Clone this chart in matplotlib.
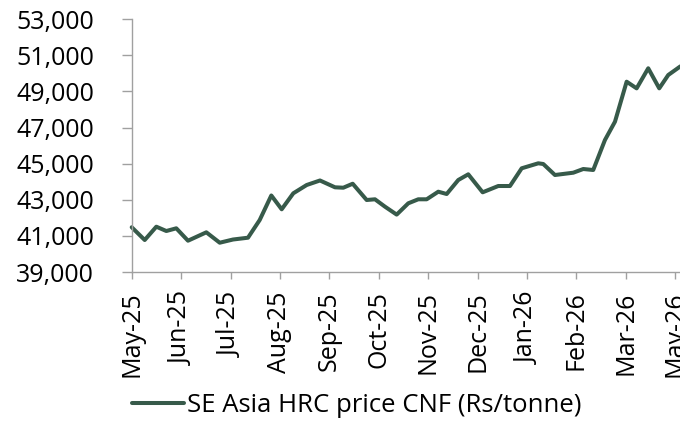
import numpy as np
import matplotlib
matplotlib.use("Agg")
import matplotlib.pyplot as plt
from matplotlib.ticker import FuncFormatter

plt.rcParams['font.family'] = ['Open Sans', 'DejaVu Sans']

# tick labels as printed on the source chart (Apr-26 is not shown there)
tick_labels = ["May-25", "Jun-25", "Jul-25", "Aug-25", "Sep-25", "Oct-25",
               "Nov-25", "Dec-25", "Jan-26", "Feb-26", "Mar-26", "May-26"]

# position of each reading, in months after the May-25 tick
month_pos = [0.0, 0.263, 0.498, 0.700, 0.902, 1.139, 1.510, 1.781, 2.050,
             2.353, 2.590, 2.825, 3.035, 3.270, 3.541, 3.810, 4.114, 4.282,
             4.472, 4.755, 4.923, 5.126, 5.362, 5.597, 5.799, 5.969, 6.204,
             6.374, 6.609, 6.811, 7.102, 7.418, 7.655, 7.892, 8.228, 8.329,
             8.565, 8.936, 9.138, 9.340, 9.577, 9.780, 10.016, 10.218,
             10.453, 10.676, 10.858, 11.094, 11.25]

# SE Asia HRC price CNF, Rs/tonne
price = [41480, 40773, 41510, 41271, 41421, 40734, 41199, 40623, 40800,
         40900, 41880, 43240, 42474, 43360, 43820, 44070, 43692, 43670,
         43890, 42989, 43028, 42618, 42180, 42806, 43028, 43028, 43449,
         43321, 44097, 44412, 43415, 43764, 43764, 44745, 45022, 44983,
         44374, 44501, 44706, 44651, 46313, 47327, 49543, 49174, 50285,
         49174, 49913, 50374, 50600]

series_name = "SE Asia HRC price CNF (Rs/tonne)"

fig = plt.figure(figsize=(6.8, 4.21), dpi=100)
# axes runs past the right edge of the figure, like the cropped original
ax = fig.add_axes([0.1937, 0.3539, 0.872, 0.6003])

ax.plot(month_pos, price, color='#375a4a', lw=2.9, solid_joinstyle='round',
        solid_capstyle='round', label=series_name, clip_on=False)

ax.set_xlim(0, 12)
ax.set_ylim(39000, 53000)
ax.set_yticks(np.arange(39000, 53001, 2000))
ax.yaxis.set_major_formatter(FuncFormatter(lambda v, p: f"{int(v):,}"))
ax.set_xticks(range(len(tick_labels)))
ax.set_xticklabels(tick_labels, rotation=90)

for s in ['top', 'right']:
    ax.spines[s].set_visible(False)
for s in ['left', 'bottom']:
    ax.spines[s].set_color('#a0a0a0')
    ax.spines[s].set_linewidth(1.0)

ax.tick_params(axis='y', length=7, width=1.0, color='#a0a0a0', pad=20,
               labelsize=18, labelcolor='black')
ax.tick_params(axis='x', length=5, width=1.0, color='#a0a0a0', pad=9,
               labelsize=18, labelcolor='black')

fig.legend(loc='center left', bbox_to_anchor=(0.1937, 0.038), frameon=False,
           fontsize=18.5, handlelength=2.05, handletextpad=0.12, borderpad=0,
           borderaxespad=0)

fig.savefig("out.png", dpi=100)
